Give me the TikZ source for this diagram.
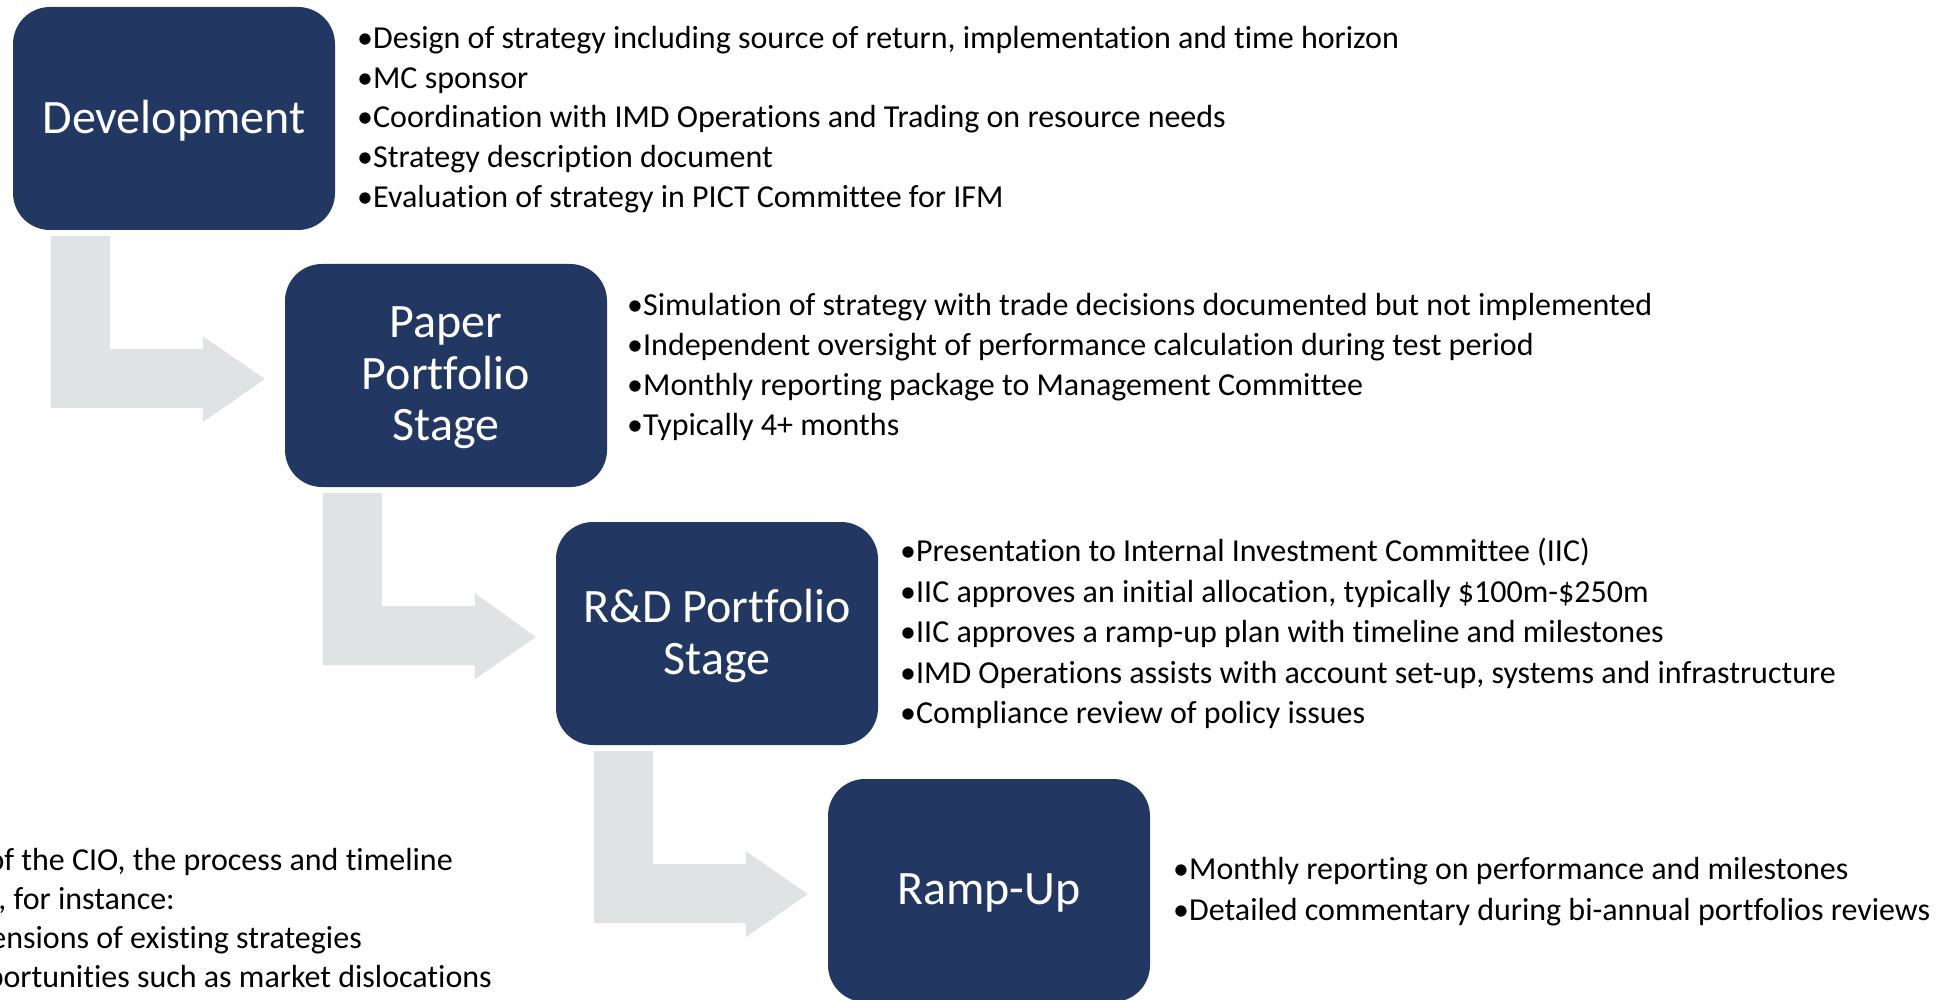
\documentclass[tikz,border=0pt]{standalone}
\usepackage{fontspec}
\setmainfont[Ligatures=NoCommon]{Carlito}
\usetikzlibrary{calc}
\definecolor{navy}{HTML}{223862}
\definecolor{arrowgray}{HTML}{DFE3E4}
\tikzset{
  stagebox/.style={fill=navy, rounded corners=37pt, minimum width=322pt, minimum height=223pt, inner sep=0pt},
  boxlabel/.style={text=white, align=center, font=\fontsize{48}{51.5}\selectfont, inner sep=0pt, yshift=-2.5pt},
  bullettext/.style={anchor=base west, inner sep=0pt, font=\fontsize{32}{40}\selectfont, text=black},
  notetext/.style={anchor=base east, inner sep=0pt, font=\fontsize{32}{40}\selectfont, text=black},
  bentarrow/.style={fill=arrowgray}
}
\newcommand\stagearrow[2]{%
  \fill[bentarrow] ($(#1.south west)+(38,6)$) coordinate (#1-a) -- ++(59,0) -- ++(0,113) -- ++(93,0)
    -- ++(0,-13) -- ($(#2.west)+(-20,3.5)$) coordinate (#2-tip) -- ($(#1.south west)+(190,192)$)
    -- ++(0,-14) -- ++(-152,0) -- cycle;}
\begin{document}
\begin{tikzpicture}[x=1pt,y=-1pt]
\useasboundingbox (0,0) rectangle (1947,1000);
\fill[white] (0,0) rectangle (1947,1000);

% stage boxes
\node[stagebox, label={[boxlabel]center:Development}] (dev) at (174,118.5) {};
\node[stagebox, label={[boxlabel]center:Paper\\Portfolio\\Stage}] (paper) at (446,375.5) {};
\node[stagebox, label={[boxlabel]center:R\&D Portfolio\\Stage}] (rd) at (717,633.5) {};
\node[stagebox, label={[boxlabel]center:Ramp-Up}] (ramp) at (989,890.5) {};

% bent arrows
\stagearrow{dev}{paper}
\stagearrow{paper}{rd}
\stagearrow{rd}{ramp}

% block 1
\node[bullettext] (d1) at (357,48.5) {•Design of strategy including source of return, implementation and time horizon};
\node[bullettext] (d2) at (357,88.25) {•MC sponsor};
\node[bullettext] (d3) at (357,128) {•Coordination with IMD Operations and Trading on resource needs};
\node[bullettext] (d4) at (357,167.75) {•Strategy description document};
\node[bullettext] (d5) at (357,207.5) {•Evaluation of strategy in PICT Committee for IFM};

% block 2
\node[bullettext] (p1) at (627,315.5) {•Simulation of strategy with trade decisions documented but not implemented};
\node[bullettext] (p2) at (627,355.5) {•Independent oversight of performance calculation during test period};
\node[bullettext] (p3) at (627,395.5) {•Monthly reporting package to Management Committee};
\node[bullettext] (p4) at (627,435.5) {•Typically 4+ months};

% block 3
\node[bullettext] (r1) at (900,561.5) {•Presentation to Internal Investment Committee (IIC)};
\node[bullettext] (r2) at (900,602) {•IIC approves an initial allocation, typically \$100m-\$250m};
\node[bullettext] (r3) at (900,642.5) {•IIC approves a ramp-up plan with timeline and milestones};
\node[bullettext] (r4) at (900,683) {•IMD Operations assists with account set-up, systems and infrastructure};
\node[bullettext] (r5) at (900,723.5) {•Compliance review of policy issues};

% block 4
\node[bullettext] (u1) at (1173,879) {•Monthly reporting on performance and milestones};
\node[bullettext] (u2) at (1173,920) {•Detailed commentary during bi-annual portfolios reviews};

% bottom-left note (cut by the left edge, as in the reference)
\node[notetext] (n1) at (453,870) {of the CIO, the process and timeline};
\node[notetext] (n2) at (175,909) {, for instance:};
\node[notetext] (n3) at (362,948) {ensions of existing strategies};
\node[notetext] (n4) at (492,987) {portunities such as market dislocations};
\end{tikzpicture}
\end{document}
